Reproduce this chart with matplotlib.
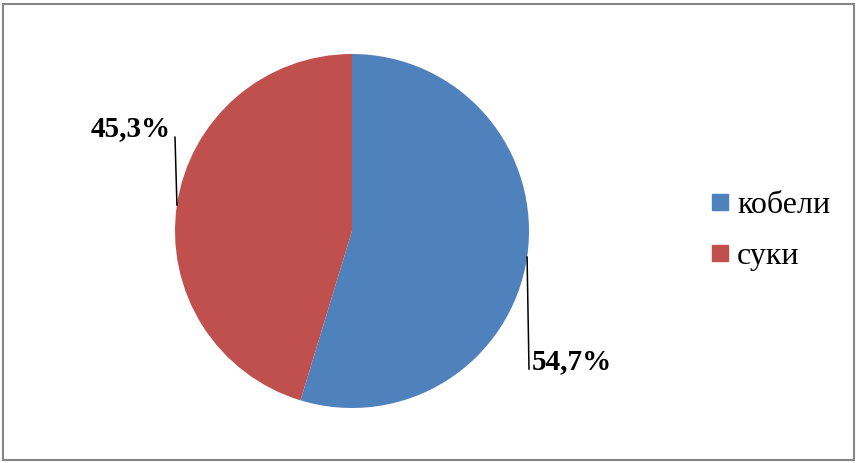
import numpy as np
import matplotlib
matplotlib.use("Agg")
import matplotlib.pyplot as plt
from matplotlib.patches import Rectangle
from matplotlib.lines import Line2D

categories = ["кобели", "суки"]
values = [54.7, 45.3]
labels = ["54,7%", "45,3%"]
colors = ["#4F81BD", "#C0504D"]

W, H = 859, 463
fig = plt.figure(figsize=(W / 100, H / 100), dpi=100)
fig.patch.set_facecolor("white")

cx, cy, r = 352, 231, 177
ax = fig.add_axes([(cx - r) / W, (H - cy - r) / H, 2 * r / W, 2 * r / H])
wedges, _ = ax.pie(values, colors=colors, startangle=90, counterclock=False,
                   radius=1.0, wedgeprops=dict(linewidth=0))
ax.set_xlim(-1, 1)
ax.set_ylim(-1, 1)
ax.set_aspect("equal")
ax.axis("off")

font = dict(family="Liberation Serif", fontsize=21, fontweight="bold")

# leader lines + labels
ends = [(1.0, -0.78), (-1.0, 0.53)]
text_pos = [(1.017, -0.78, "left"), (-1.023, 0.537, "right")]
for w, lab, (ex, ey), (tx, ty, ha) in zip(wedges, labels, ends, text_pos):
    mid = np.deg2rad((w.theta1 + w.theta2) / 2)
    px, py = np.cos(mid), np.sin(mid)
    ax.plot([px, ex], [py, ey], color="black", lw=1.1, clip_on=False)
    ax.text(tx, ty, lab, ha=ha, va="baseline", clip_on=False, **font)

handles = [Line2D([], [], marker="s", linestyle="none", markersize=12,
                  markerfacecolor=c, markeredgecolor=c) for c in colors]
fig.legend(handles, categories, loc="center left",
           bbox_to_anchor=(678 / W, 1 - 231 / H), frameon=False,
           prop=dict(family="Liberation Serif", size=23),
           handlelength=0.8, handletextpad=0.15, labelspacing=0.66)

fig.add_artist(Rectangle((3.5 / W, 3.5 / H), (854 - 3.5) / W, (459 - 3.5) / H,
                         transform=fig.transFigure, fill=False,
                         edgecolor="#868686", linewidth=1.5))

fig.savefig("out.png", dpi=100)
